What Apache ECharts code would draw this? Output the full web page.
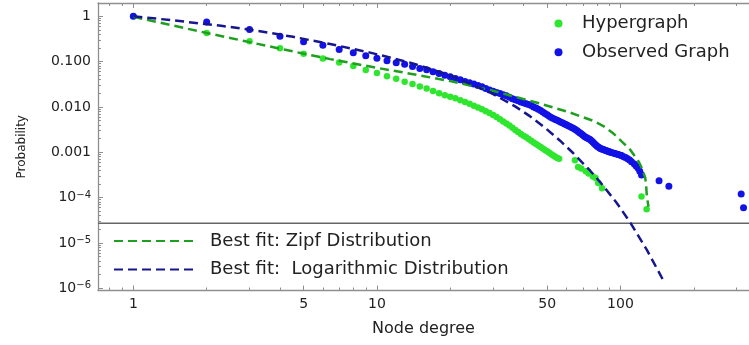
<!DOCTYPE html>
<html><head><meta charset="utf-8">
<script src="https://cdn.jsdelivr.net/npm/echarts@6/dist/echarts.min.js"></script>
<style>html,body{margin:0;padding:0;background:#fff}#c{width:749px;height:345px}</style>
</head><body><div id="c"></div>
<script>
// ---- data ----
const hyperDeg = [1,2,3,4,5,6,7,8,9,10,11,12,13,14,15,16,17,18,19,20,21,22,23,24,25,26,27,28,29,30,31,32,33,34,35,36,37,38,39,40,41,42,43,44,45,46,47,48,49,50,51,52,53,54,55,56,65,67,69,72,74,77,79,81,84,122,128];
const hyperProb = [1,0.429,0.281,0.197,0.149,0.117,0.0955,0.0804,0.0656,0.0564,0.0477,0.0416,0.0361,0.0321,0.0284,0.0254,0.0226,0.0200,0.0180,0.0168,0.0156,0.0141,0.0128,0.0117,0.0106,0.0097,0.00885,0.00804,0.0073,0.0066,0.00596,0.00533,0.00474,0.00429,0.00387,0.00348,0.00311,0.00281,0.00254,0.00232,0.00213,0.00195,0.00179,0.00165,0.00152,0.00141,0.0013,0.00121,0.00112,0.00105,0.000975,0.000908,0.000851,0.000797,0.000745,0.000719,0.00067,0.00047,0.00044,0.00038,0.00034,0.00029,0.00027,0.00021,0.00016,0.000105,0.000055];

const obsDeg = [1,2,3,4,5,6,7,8,9,10,11,12,13,14,15,16,17,18,19,20,21,22,23,24,25,26,27,28,29,30,31,32,33,34,35,36,37,38,39,40,41,42,43,44,45,46,47,48,49,50,51,52,53,54,55,56,57,58,59,60,61,62,63,64,65,66,67,68,69,70,71,72,73,74,75,76,77,78,79,80,81,82,83,84,85,86,87,88,89,90,91,92,94,95,97,98,100,101,103,105,107,109,111,114,116,118,120,122,144,158,313,320];
const obsProb = [1,0.749,0.509,0.363,0.274,0.230,0.185,0.157,0.135,0.118,0.1042,0.0946,0.0877,0.0784,0.0708,0.066,0.0596,0.0544,0.0501,0.0462,0.0426,0.0397,0.0366,0.0343,0.0319,0.0298,0.0277,0.0255,0.0237,0.0222,0.0209,0.0198,0.0185,0.0176,0.0164,0.0152,0.0144,0.0136,0.0129,0.0124,0.0118,0.0113,0.0107,0.0100,0.00946,0.0089,0.00833,0.00773,0.00719,0.0067,0.00624,0.00587,0.00558,0.00531,0.00507,0.00482,0.00458,0.0044,0.0042,0.00402,0.00385,0.00368,0.00353,0.00338,0.0032,0.00304,0.00287,0.00271,0.00255,0.00239,0.00226,0.00214,0.00206,0.00199,0.0019,0.0018,0.00168,0.00156,0.00146,0.00137,0.0013,0.00125,0.0012,0.00118,0.00115,0.00112,0.0011,0.00107,0.00105,0.00103,0.001,0.000985,0.00095,0.000936,0.0009,0.000889,0.00086,0.000845,0.0008,0.000764,0.00072,0.000673,0.00062,0.00055,0.0005,0.000449,0.00038,0.000315,0.000236,0.000177,0.00012,0.00006];

const zipfDeg = [1,2,3,4.69,6.43,9.83,13.69,19.98,29.17,45.9,61,77.3,85,93.6,109.6,118.6,122.5,126.3,127.3,128.3,130.3];
const zipfProb = [0.975,0.428,0.269,0.161,0.1135,0.0741,0.0542,0.0372,0.0236,0.0122,0.00776,0.00494,0.00379,0.00258,0.00114,0.000628,0.000442,0.000277,0.000202,0.000108,0.0000627];

const logDeg = [1,1.484,2.292,3.015,4.528,6.425,9.378,13.69,19.98,29.17,36.94,42.6,49.06,56.5,63.9,75.1,82.5,96.7,109.6,128.3,148.8];
const logProb = [1,0.805,0.615,0.508,0.352,0.244,0.158,0.0948,0.0499,0.0209,0.01028,0.00618,0.00345,0.0018,0.000962,0.000391,0.00022,0.0000752,0.0000282,0.00000701,0.0000016];

const xMajorTicks = [1,5,10,50,100];
const xMinorTicks = [0.8,0.9,2,3,4,6,7,8,9,20,30,40,60,70,80,90,200,300];
const yMajorTicks = [1,0.1,0.01,0.001,1e-4,1e-5,1e-6];
const yTickLabels = ['1','0.100','0.010','0.001','10^\u22124','10^\u22125','10^\u22126'];
const legendRuleValue = 2.73e-5;

const seriesNames = ['Hypergraph','Observed Graph','Best fit: Zipf Distribution','Best fit:  Logarithmic Distribution'];

// ---- chart ----
const FONT = 'DejaVu Sans';
const X_MIN = 0.716, X_MAX = 337, Y_MIN = 8.91e-7, Y_MAX = 1.963;
const yMinorTicks = [];
for (let e = -7; e <= 0; e++) for (let m = 2; m <= 9; m++) {
  const v = m * Math.pow(10, e);
  if (v > Y_MIN && v < Y_MAX) yMinorTicks.push(v);
}
const pairs = (xs, ys) => xs.map((x, i) => [x, ys[i]]);
function yFmt(v) {
  const e = Math.round(Math.log10(v));
  const i = yMajorTicks.findIndex(t => Math.round(Math.log10(t)) === e);
  const s = yTickLabels[i] || '';
  if (s.indexOf('^') >= 0) { const p = s.split('^'); return '{b|' + p[0] + '}{s|' + p[1] + '}'; }
  return '{b|' + s + '}';
}
function xFmt(v) { return String(Math.round(v)); }

const axisColor = '#8f8f8f';
const baseX = (pos, major, showLabel, showLine) => ({
  type: 'log', logBase: 10, min: X_MIN, max: X_MAX, position: pos,
  axisLine: { show: showLine, lineStyle: { color: axisColor, width: 1.3 } },
  axisTick: { show: true, inside: true, length: major ? 5 : 3, customValues: major ? xMajorTicks : xMinorTicks, lineStyle: { color: axisColor, width: 1 } },
  axisLabel: { show: showLabel, customValues: xMajorTicks, formatter: xFmt, margin: 7, color: '#222', fontFamily: FONT, fontSize: 14 },
  splitLine: { show: false }, minorTick: { show: false }
});
const baseY = (major, showLabel, showLine) => ({
  type: 'log', logBase: 10, min: Y_MIN, max: Y_MAX, position: 'left',
  axisLine: { show: showLine, lineStyle: { color: axisColor, width: 1.3 } },
  axisTick: { show: true, inside: true, length: major ? 5 : 3, customValues: major ? yMajorTicks : yMinorTicks, lineStyle: { color: axisColor, width: 1 } },
  axisLabel: { show: showLabel, customValues: yMajorTicks, formatter: yFmt, margin: 7, color: '#222',
    rich: { b: { fontFamily: FONT, fontSize: 14, color: '#222' }, s: { fontFamily: FONT, fontSize: 10, color: '#222', padding: [0, 0, 5, 0] } } },
  splitLine: { show: false }, minorTick: { show: false }
});

const xAxes = [
  Object.assign(baseX('bottom', true, true, true), { name: 'Node degree', nameLocation: 'middle', nameGap: 30, nameTextStyle: { fontFamily: FONT, fontSize: 16, color: '#222' } }),
  baseX('bottom', false, false, false),
  baseX('top', true, false, true),
  baseX('top', false, false, false)
];
const yAxes = [
  Object.assign(baseY(true, true, true), { name: 'Probability', nameLocation: 'middle', nameGap: 70, nameTextStyle: { fontFamily: FONT, fontSize: 12, color: '#222' } }),
  baseY(false, false, false)
];

const chart = echarts.init(document.getElementById('c'), null, { renderer: 'canvas' });
chart.setOption({
  animation: false,
  backgroundColor: '#fff',
  grid: { left: 98, right: 0, top: 3, bottom: 54.5, containLabel: false },
  xAxis: xAxes,
  yAxis: yAxes,
  legend: [
    { data: [seriesNames[0], seriesNames[1]], orient: 'vertical', left: 549.5, top: 9.5, itemWidth: 37, itemHeight: 8, itemGap: 10.7, icon: 'circle',
      textStyle: { fontFamily: FONT, fontSize: 18, lineHeight: 18, color: '#222' } },
    { data: [seriesNames[2], seriesNames[3]], orient: 'vertical', left: 108, top: 227, itemWidth: 80, itemHeight: 14, itemGap: 10.4,
      itemStyle: { opacity: 0 },
      textStyle: { fontFamily: FONT, fontSize: 18, lineHeight: 18, color: '#222', padding: [0, 0, 0, 11] } }
  ],
  series: [
    { name: 'legendRule', type: 'line', data: [[X_MIN, legendRuleValue], [X_MAX, legendRuleValue]], showSymbol: false, symbol: 'none', silent: true,
      lineStyle: { color: '#666', width: 1.5, type: 'solid' }, z: 1 },
    { name: seriesNames[0], type: 'scatter', data: pairs(hyperDeg, hyperProb), symbolSize: 6.5, itemStyle: { color: '#2fe62f', opacity: 1 }, z: 2 },
    { name: seriesNames[1], type: 'scatter', data: pairs(obsDeg, obsProb), symbolSize: 7, itemStyle: { color: '#1212e6', opacity: 1 }, z: 2 },
    { name: seriesNames[2], type: 'line', data: pairs(zipfDeg, zipfProb), showSymbol: false, symbol: 'none', smooth: false,
      lineStyle: { color: '#1f9e1f', width: 2.5, type: [9, 5] }, itemStyle: { color: '#1f9e1f' }, z: 3 },
    { name: seriesNames[3], type: 'line', data: pairs(logDeg, logProb), showSymbol: false, symbol: 'none', smooth: false,
      lineStyle: { color: '#16168f', width: 2.5, type: [9, 5] }, itemStyle: { color: '#16168f' }, z: 3 }
  ]
});
</script>
</body></html>
